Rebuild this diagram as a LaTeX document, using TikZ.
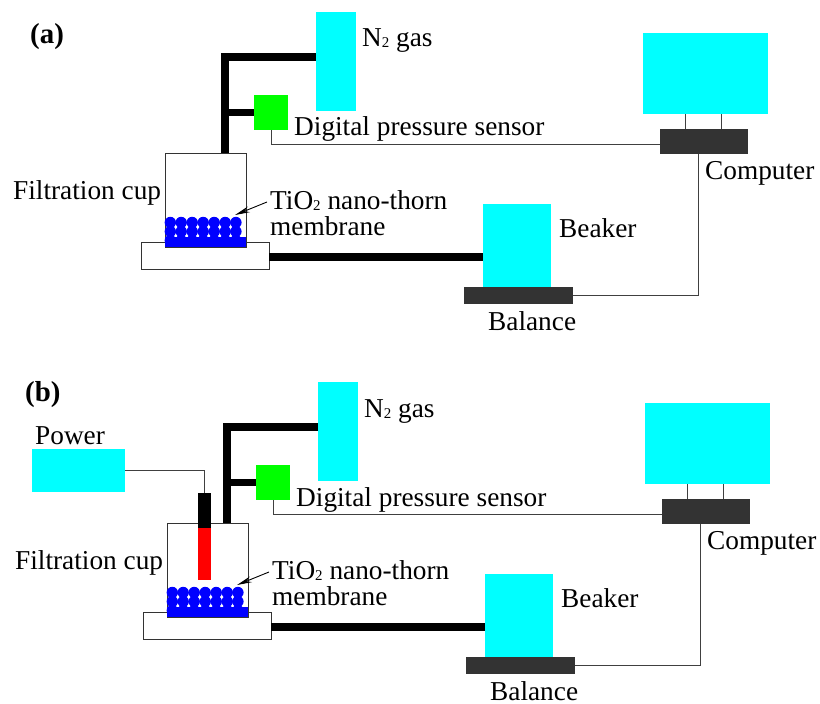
\documentclass[tikz,border=0pt]{standalone}
\usepackage{fontspec}
\setmainfont{Liberation Serif}
\usetikzlibrary{arrows.meta}
\definecolor{aquafill}{RGB}{0,255,255}
\definecolor{sensorgreen}{RGB}{0,255,0}
\definecolor{darkbar}{RGB}{51,51,51}
\definecolor{dotblue}{RGB}{0,0,255}
\tikzset{
  box/.style={rectangle,inner sep=0pt,outer sep=0pt,line width=0.9bp},
  aquabox/.style={box,fill=aquafill},
  greenbox/.style={box,fill=sensorgreen},
  darkbox/.style={box,fill=darkbar},
  whitebox/.style={box,draw=black!80,fill=white},
  pipe/.style={line width=7.5bp,black},
  wire/.style={line width=0.9bp,black!75},
  lbl/.style={inner sep=0pt,anchor=base west,font=\fontsize{27.4}{30}\selectfont},
  boldlbl/.style={inner sep=0pt,anchor=base west,font=\fontsize{29}{32}\selectfont\bfseries},
  pointer/.style={line width=0.9bp,black,-{Stealth[length=15bp,width=6bp]}}
}
\newcommand{\subtwo}{\raisebox{-1bp}{\fontsize{15}{15}\selectfont 2}}
\newcommand{\panelbody}{%
  \node[whitebox,minimum width=128bp,minimum height=27bp] (base) at (205,255.5) {};
  \node[whitebox,minimum width=81bp,minimum height=94bp] (cup) at (205.5,200) {};
  \foreach \cy in {222.5,231.5,240.5}{
    \foreach \cx in {170.3,181.2,192.2,203.2,214.2,225.2,235.9}{
      \fill[dotblue] (\cx,\cy) circle[radius=5.7];
    }
  }
  \node[box,fill=dotblue,minimum width=81bp,minimum height=10bp] (slab) at (205.5,242) {};
  \node[aquabox,minimum width=40bp,minimum height=99bp] (gas) at (336,61.5) {};
  \node[greenbox,minimum width=34bp,minimum height=35bp] (sensor) at (271,112.5) {};
  \node[aquabox,minimum width=125bp,minimum height=81bp] (monitor) at (705.5,73.5) {};
  \node[darkbox,minimum width=88bp,minimum height=25bp] (pc) at (704,141.5) {};
  \node[aquabox,minimum width=68bp,minimum height=83bp] (beaker) at (517,245.5) {};
  \node[darkbox,minimum width=109bp,minimum height=17bp] (scale) at (518.5,295.5) {};
  \draw[pipe,line cap=butt] ([xshift=19.5bp]cup.north) |- ([yshift=4.5bp]gas.west);
  \draw[pipe] ([xshift=-29bp]sensor.west) -- (sensor.west);
  \draw[pipe] (base.east |- {0,257}) -- (beaker.west |- {0,257});
  \draw[wire] (sensor.south) |- ([yshift=-2.5bp]pc.west);
  \draw[wire] ([xshift=-19bp]pc.north) -- ([xshift=-19bp]pc.north |- monitor.south);
  \draw[wire] ([xshift=17bp]pc.north) -- ([xshift=17bp]pc.north |- monitor.south);
  \draw[wire] ([xshift=-6bp]pc.south) |- (scale.east |- {0,295});
  \node[lbl] (gaslabel) at (362,47) {N\subtwo\ gas};
  \node[lbl] (sensorlabel) at (294,136) {Digital pressure sensor};
  \node[lbl] (pclabel) at (705,179) {Computer};
  \node[lbl] (beakerlabel) at (559,237) {Beaker};
  \node[lbl] (scalelabel) at (488,330) {Balance};
  \node[lbl] (cuplabel) at (13,199) {Filtration cup};
  \node[lbl] (mem) at (270,209) {TiO\subtwo\ nano-thorn};
  \node[lbl] (mem2) at (270,235) {membrane};
  \coordinate (tipstart) at (267,202);
  \coordinate (tipend) at (235,215);
  \draw[pointer] (tipstart) -- (tipend);
}
\begin{document}
\begin{tikzpicture}[x=1bp,y=-1bp]
\useasboundingbox (0,0) rectangle (820,704);
\begin{scope}[name prefix=a-]
  \panelbody
  \node[boldlbl] (panela) at (30,44) {(a)};
\end{scope}
\begin{scope}[shift={(2,370)},name prefix=b-]
  \panelbody
  \node[aquabox,minimum width=93bp,minimum height=43bp] (power) at (76.5,100.5) {};
  \node[box,fill=black,minimum width=13bp,minimum height=35bp] (rodtop) at (202.5,140.5) {};
  \node[box,fill=red,minimum width=13bp,minimum height=52bp] (rod) at (202.5,184) {};
  \draw[wire] (power.east) -| (rodtop.north);
  \node[lbl] (powerlabel) at (33,74) {Power};
  \node[boldlbl] (panelb) at (23,31) {(b)};
\end{scope}
\end{tikzpicture}
\end{document}
